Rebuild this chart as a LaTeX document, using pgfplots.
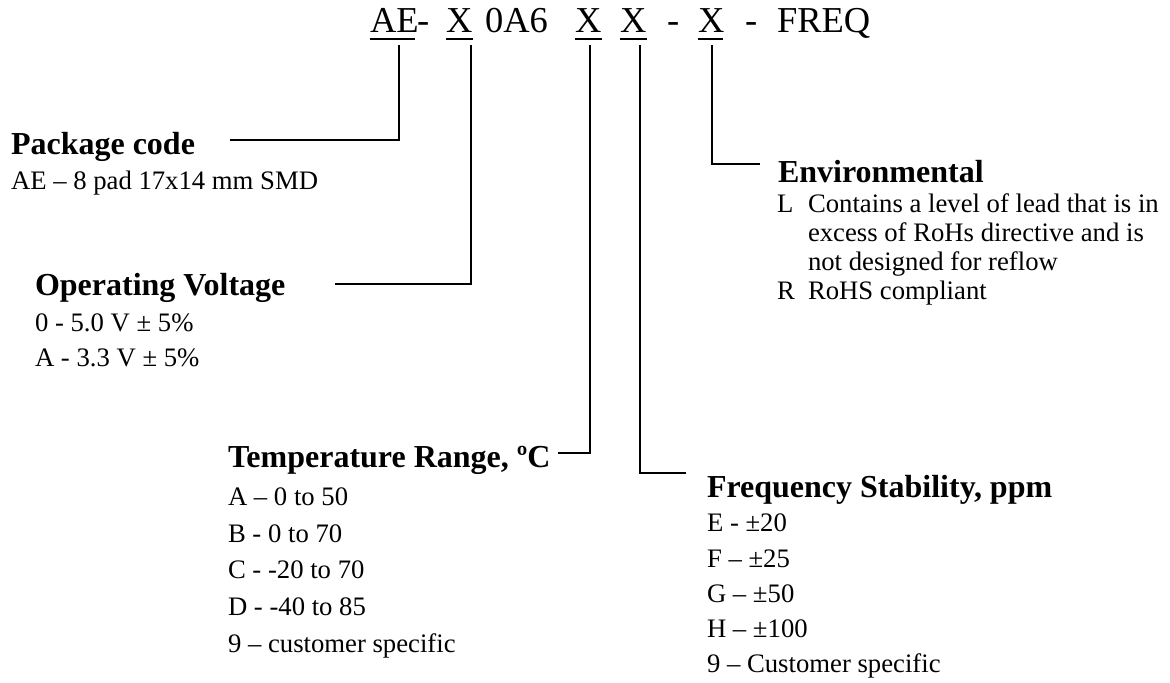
\documentclass[border=0pt]{standalone}
\usepackage{pgfplots}
\pgfplotsset{compat=1.18}
\usepackage{fontspec}
\setmainfont{Liberation Serif}
\newcommand{\titf}{\fontsize{18.25}{21}\selectfont}
\newcommand{\bodyf}{\fontsize{13.35}{16}\selectfont}
\newcommand{\headf}{\fontsize{16}{19}\selectfont\bfseries}
\newcommand{\T}[4]{\node[anchor=base west,inner sep=0pt,outer sep=0pt,font=#1] at (axis cs:#2,#3) {#4};}
\newcommand{\Lbox}[1]{\makebox[15.5pt][l]{#1}}
\begin{document}
\begin{tikzpicture}
\begin{axis}[
  width=585pt, height=341.5pt, scale only axis,
  xmin=0, xmax=1170, ymin=0, ymax=683, y dir=reverse,
  hide axis, clip=false,
]
\path (axis cs:0,0) rectangle (axis cs:1170,683);
% leader lines
\addplot[black, line width=1pt, line join=miter, mark=none] coordinates {(230,140) (399,140) (399,45)};
\addplot[black, line width=1pt, line join=miter, mark=none] coordinates {(335,284) (471,284) (471,45)};
\addplot[black, line width=1pt, line join=miter, mark=none] coordinates {(558,453) (590,453) (590,45)};
\addplot[black, line width=1pt, line join=miter, mark=none] coordinates {(640,45) (640,473) (686,473)};
\addplot[black, line width=1pt, line join=miter, mark=none] coordinates {(712,45) (712,164) (760,164)};
% underlines
\addplot[black, line width=1pt, mark=none] coordinates {(370,39) (415,39)};
\addplot[black, line width=1pt, mark=none] coordinates {(446,39) (473,39)};
\addplot[black, line width=1pt, mark=none] coordinates {(575,39) (602,39)};
\addplot[black, line width=1pt, mark=none] coordinates {(620,39) (647,39)};
\addplot[black, line width=1pt, mark=none] coordinates {(698,39) (723,39)};
% title
\T{\titf}{370}{33}{AE}
\T{\titf}{417}{33}{-}
\T{\titf}{446}{33}{X}
\T{\titf}{485}{33}{0A6}
\T{\titf}{575}{33}{X}
\T{\titf}{620}{33}{X}
\T{\titf}{667}{33}{-}
\T{\titf}{698}{33}{X}
\T{\titf}{745}{33}{-}
\T{\titf}{777}{33}{FREQ}
% package code
\T{\headf}{11}{155}{Package code}
\T{\bodyf}{11}{190}{AE – 8 pad 17x14 mm SMD}
% operating voltage
\T{\headf}{35}{296}{Operating Voltage}
\T{\bodyf}{35}{332}{0 - 5.0 V ± 5\%}
\T{\bodyf}{35}{367}{A - 3.3 V ± 5\%}
% environmental
\T{\headf}{778}{183}{Environmental}
\T{\bodyf}{777}{213}{\Lbox{L}Contains a level of lead that is in}
\T{\bodyf}{808}{242}{excess of RoHs directive and is}
\T{\bodyf}{808}{271}{not designed for reflow}
\T{\bodyf}{777}{300}{\Lbox{R}RoHS compliant}
% temperature
\T{\headf}{228}{467}{Temperature Range, ºC}
\T{\bodyf}{228}{505}{A – 0 to 50}
\T{\bodyf}{228}{542}{B - 0 to 70}
\T{\bodyf}{228}{578}{C - -20 to 70}
\T{\bodyf}{228}{615}{D - -40 to 85}
\T{\bodyf}{228}{652}{9 – customer specific}
% frequency stability
\T{\headf}{707}{497}{Frequency Stability, ppm}
\T{\bodyf}{707}{531}{E - ±20}
\T{\bodyf}{707}{567}{F – ±25}
\T{\bodyf}{707}{602}{G – ±50}
\T{\bodyf}{707}{637}{H – ±100}
\T{\bodyf}{707}{672}{9 – Customer specific}
\end{axis}
\end{tikzpicture}
\end{document}
